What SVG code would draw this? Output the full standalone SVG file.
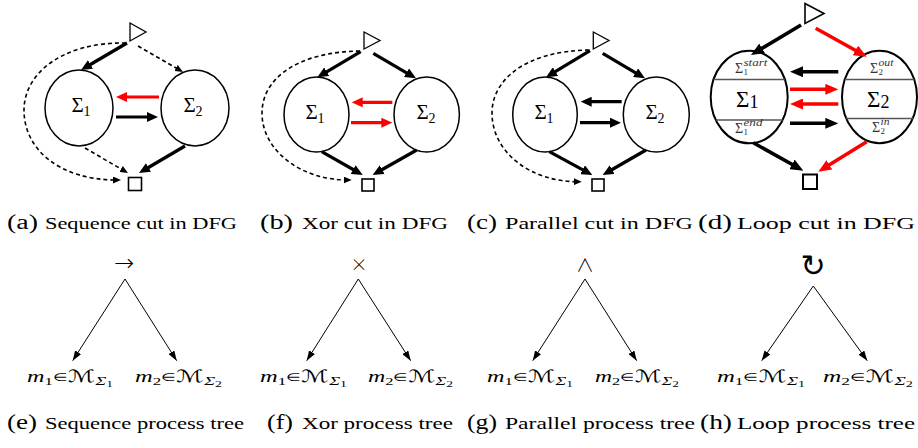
<svg xmlns="http://www.w3.org/2000/svg" width="918" height="448" viewBox="0 0 918 448">
<style>
.ell{fill:#fff;stroke:#000;stroke-width:1.5}
.ell2{fill:#fff;stroke:#000;stroke-width:2}
.tri{fill:#fff;stroke:#000;stroke-width:1.3}
.sq{fill:#fff;stroke:#000;stroke-width:1.6}
.div{stroke:#555;stroke-width:1.5}
.b{fill:none;stroke:#000;stroke-width:3.2}
.r{fill:none;stroke:#f00;stroke-width:3.2}
.bd{fill:none;stroke:#000;stroke-width:3.6}
.rd{fill:none;stroke:#f00;stroke-width:3.6}
.d{fill:none;stroke:#000;stroke-width:1.6;stroke-dasharray:4 3}
.t{fill:none;stroke:#000;stroke-width:1}
.sig{font-family:"Liberation Serif",serif;font-size:21px;fill:#000;text-anchor:middle}
.sigL{font-family:"Liberation Serif",serif;font-size:23px;fill:#000}
.sm{font-family:"Liberation Serif",serif;font-size:14px;fill:#333}
.sub{font-family:"Liberation Serif",serif;font-size:9px;fill:#333}
.sup{font-family:"Liberation Serif",serif;font-size:10px;font-style:italic;fill:#333}
.lab{font-family:"Liberation Serif",serif;font-size:20px;fill:#000}
.cap{font-family:"Liberation Serif",serif;font-size:17px;fill:#000}
.ml{font-family:"Liberation Serif",serif;font-size:16px;fill:#000}
.op{font-family:"DejaVu Sans",sans-serif;font-weight:200;fill:#000;text-anchor:middle}
.op2{font-family:"Noto Sans CJK JP","DejaVu Sans",sans-serif;font-weight:300;fill:#000;text-anchor:middle}
.op3{font-family:"DejaVu Sans",sans-serif;fill:#000;text-anchor:middle}
</style>
<defs>
<marker id="hb" markerUnits="userSpaceOnUse" markerWidth="11" markerHeight="10" refX="6" refY="5" orient="auto"><path d="M0,0 L11,5 L0,10 z" fill="#000"/></marker>
<marker id="hr" markerUnits="userSpaceOnUse" markerWidth="11" markerHeight="10" refX="6" refY="5" orient="auto"><path d="M0,0 L11,5 L0,10 z" fill="#f00"/></marker>
<marker id="hbd" markerUnits="userSpaceOnUse" markerWidth="13" markerHeight="11" refX="7" refY="5.5" orient="auto"><path d="M0,0 L13,5.5 L0,11 z" fill="#000"/></marker>
<marker id="hrd" markerUnits="userSpaceOnUse" markerWidth="13" markerHeight="11" refX="7" refY="5.5" orient="auto"><path d="M0,0 L13,5.5 L0,11 z" fill="#f00"/></marker>
<marker id="hd" markerUnits="userSpaceOnUse" markerWidth="8" markerHeight="7" refX="4" refY="3.5" orient="auto"><path d="M0,0 L8,3.5 L0,7 z" fill="#000"/></marker>
<marker id="ht" markerUnits="userSpaceOnUse" markerWidth="10" markerHeight="7" refX="10" refY="3.5" orient="auto"><path d="M0,0 L10,3.5 L0,7 z" fill="#000"/></marker>
</defs>
<rect width="918" height="448" fill="#fff"/>

<!-- Panel (a) nodes -->
<g id="a-start"><polygon class="tri" points="130,23 146,32 130,41"/></g>
<g id="a-s1"><ellipse class="ell" cx="79" cy="108" rx="34" ry="38"/><text class="sig" x="81" y="112">Σ<tspan font-size="14" dy="4">1</tspan></text></g>
<g id="a-s2"><ellipse class="ell" cx="195" cy="108" rx="34" ry="38"/><text class="sig" x="193" y="112">Σ<tspan font-size="14" dy="4">2</tspan></text></g>
<g id="a-end"><rect class="sq" x="128.5" y="177.5" width="13" height="13"/></g>

<!-- Panel (b) nodes -->
<g id="b-start"><polygon class="tri" points="364,32 380,40.5 364,49"/></g>
<g id="b-s1"><ellipse class="ell" cx="316.5" cy="114.5" rx="32.5" ry="37.5"/><text class="sig" x="315" y="119">Σ<tspan font-size="14" dy="4">1</tspan></text></g>
<g id="b-s2"><ellipse class="ell" cx="426.7" cy="114.5" rx="32.7" ry="37.5"/><text class="sig" x="426" y="119">Σ<tspan font-size="14" dy="4">2</tspan></text></g>
<g id="b-end"><rect class="sq" x="362" y="179" width="12" height="12"/></g>

<!-- Panel (c) nodes -->
<g id="c-start"><polygon class="tri" points="593.3,32 609,40.5 593.3,49"/></g>
<g id="c-s1"><ellipse class="ell" cx="545" cy="114.5" rx="32.3" ry="37.5"/><text class="sig" x="544" y="119">Σ<tspan font-size="14" dy="4">1</tspan></text></g>
<g id="c-s2"><ellipse class="ell" cx="656.3" cy="114.5" rx="33" ry="37.5"/><text class="sig" x="655" y="119">Σ<tspan font-size="14" dy="4">2</tspan></text></g>
<g id="c-end"><rect class="sq" x="592" y="179" width="12" height="12"/></g>

<!-- Panel (d) nodes -->
<g id="d-start"><polygon class="tri" points="805,3.5 824,13.5 805,23.5" style="stroke-width:1.6"/></g>
<g id="d-s1">
<ellipse class="ell2" cx="749.2" cy="97" rx="38.5" ry="46.3"/>
<line class="div" x1="713.6" y1="79.5" x2="784.8" y2="79.5"/>
<line class="div" x1="715.8" y1="120" x2="782.6" y2="120"/>
<text class="sm" x="735" y="73">Σ</text><text class="sub" x="743.5" y="75">1</text><text class="sup" x="743.5" y="66" textLength="24" lengthAdjust="spacingAndGlyphs">start</text>
<text class="sigL" x="736" y="107">Σ<tspan font-size="18" dy="1">1</tspan></text>
<text class="sm" x="735" y="133">Σ</text><text class="sub" x="743.5" y="135">1</text><text class="sup" x="743.5" y="126" textLength="19" lengthAdjust="spacingAndGlyphs">end</text>
</g>
<g id="d-s2">
<ellipse class="ell2" cx="879.5" cy="97" rx="37.5" ry="46.3"/>
<line class="div" x1="844.8" y1="79.5" x2="914.2" y2="79.5"/>
<line class="div" x1="846" y1="118.5" x2="913" y2="118.5"/>
<text class="sm" x="870" y="73">Σ</text><text class="sub" x="878.5" y="75">2</text><text class="sup" x="878.5" y="66" textLength="15" lengthAdjust="spacingAndGlyphs">out</text>
<text class="sigL" x="867" y="107">Σ<tspan font-size="18" dy="1">2</tspan></text>
<text class="sm" x="872" y="132">Σ</text><text class="sub" x="880.5" y="134">2</text><text class="sup" x="880.5" y="125" textLength="9" lengthAdjust="spacingAndGlyphs">in</text>
</g>
<g id="d-end"><rect class="sq" x="803" y="174.5" width="14" height="14.5" style="stroke-width:2"/></g>

<!-- Trees nodes -->
<g id="e-root"><text class="op" x="124" y="271" font-size="24">→</text></g>
<g id="e-m1"><text class="ml" x="27" y="382" textLength="86" lengthAdjust="spacingAndGlyphs"><tspan font-style="italic">m</tspan><tspan font-size="11" dy="3">1</tspan><tspan font-size="11" dy="-4">∈</tspan><tspan font-family="DejaVu Sans" font-size="17" dy="1">ℳ</tspan><tspan font-style="italic" font-size="12" dy="3">Σ</tspan><tspan font-size="9" dy="2">1</tspan></text></g>
<g id="e-m2"><text class="ml" x="135" y="382" textLength="87" lengthAdjust="spacingAndGlyphs"><tspan font-style="italic">m</tspan><tspan font-size="11" dy="3">2</tspan><tspan font-size="11" dy="-4">∈</tspan><tspan font-family="DejaVu Sans" font-size="17" dy="1">ℳ</tspan><tspan font-style="italic" font-size="12" dy="3">Σ</tspan><tspan font-size="9" dy="2">2</tspan></text></g>

<g id="f-root"><text class="op2" x="359" y="271" font-size="17">×</text></g>
<g id="f-m1"><text class="ml" x="260" y="382" textLength="87" lengthAdjust="spacingAndGlyphs"><tspan font-style="italic">m</tspan><tspan font-size="11" dy="3">1</tspan><tspan font-size="11" dy="-4">∈</tspan><tspan font-family="DejaVu Sans" font-size="17" dy="1">ℳ</tspan><tspan font-style="italic" font-size="12" dy="3">Σ</tspan><tspan font-size="9" dy="2">1</tspan></text></g>
<g id="f-m2"><text class="ml" x="368" y="382" textLength="85" lengthAdjust="spacingAndGlyphs"><tspan font-style="italic">m</tspan><tspan font-size="11" dy="3">2</tspan><tspan font-size="11" dy="-4">∈</tspan><tspan font-family="DejaVu Sans" font-size="17" dy="1">ℳ</tspan><tspan font-style="italic" font-size="12" dy="3">Σ</tspan><tspan font-size="9" dy="2">2</tspan></text></g>

<g id="g-root"><text class="op2" x="585" y="272" font-size="18">∧</text></g>
<g id="g-m1"><text class="ml" x="487" y="382" textLength="86" lengthAdjust="spacingAndGlyphs"><tspan font-style="italic">m</tspan><tspan font-size="11" dy="3">1</tspan><tspan font-size="11" dy="-4">∈</tspan><tspan font-family="DejaVu Sans" font-size="17" dy="1">ℳ</tspan><tspan font-style="italic" font-size="12" dy="3">Σ</tspan><tspan font-size="9" dy="2">1</tspan></text></g>
<g id="g-m2"><text class="ml" x="595" y="382" textLength="84" lengthAdjust="spacingAndGlyphs"><tspan font-style="italic">m</tspan><tspan font-size="11" dy="3">2</tspan><tspan font-size="11" dy="-4">∈</tspan><tspan font-family="DejaVu Sans" font-size="17" dy="1">ℳ</tspan><tspan font-style="italic" font-size="12" dy="3">Σ</tspan><tspan font-size="9" dy="2">2</tspan></text></g>

<g id="h-root"><text class="op3" x="813" y="276" font-size="30">↻</text></g>
<g id="h-m1"><text class="ml" x="717" y="382" textLength="88" lengthAdjust="spacingAndGlyphs"><tspan font-style="italic">m</tspan><tspan font-size="11" dy="3">1</tspan><tspan font-size="11" dy="-4">∈</tspan><tspan font-family="DejaVu Sans" font-size="17" dy="1">ℳ</tspan><tspan font-style="italic" font-size="12" dy="3">Σ</tspan><tspan font-size="9" dy="2">1</tspan></text></g>
<g id="h-m2"><text class="ml" x="823" y="382" textLength="90" lengthAdjust="spacingAndGlyphs"><tspan font-style="italic">m</tspan><tspan font-size="11" dy="3">2</tspan><tspan font-size="11" dy="-4">∈</tspan><tspan font-family="DejaVu Sans" font-size="17" dy="1">ℳ</tspan><tspan font-style="italic" font-size="12" dy="3">Σ</tspan><tspan font-size="9" dy="2">2</tspan></text></g>

<!-- Connectors -->
<g id="connectors">
<!-- a -->
<path class="b" d="M127,43 L85.3,67.5" marker-end="url(#hb)"/>
<path class="d" d="M138,46 L179.5,70" marker-end="url(#hd)"/>
<path class="r" d="M159,97 L121,97" marker-end="url(#hr)"/>
<path class="b" d="M116,117 L153,117" marker-end="url(#hb)"/>
<path class="d" d="M85,148 L124.5,171" marker-end="url(#hd)"/>
<path class="b" d="M185,146 L143.3,170.5" marker-end="url(#hb)"/>
<path class="d" d="M126,43 C60,42 24,75 24,110 C24,150 60,180 117,180" marker-end="url(#hd)"/>
<!-- b -->
<path class="b" d="M360.7,51.7 L321.6,74.8" marker-end="url(#hb)"/>
<path class="b" d="M373.3,53.3 L411.7,75.8" marker-end="url(#hb)"/>
<path class="r" d="M392.3,102.3 L356.7,102.3" marker-end="url(#hr)"/>
<path class="r" d="M351,122.7 L387.3,122.7" marker-end="url(#hr)"/>
<path class="b" d="M321.7,151.7 L358.4,172.5" marker-end="url(#hb)"/>
<path class="b" d="M416.7,150 L377,172.5" marker-end="url(#hb)"/>
<path class="d" d="M360,51 C295,52 262,80 262,113 C262,150 300,180 347.7,180" marker-end="url(#hd)"/>
<!-- c -->
<path class="b" d="M590,50.7 L550.3,74.7" marker-end="url(#hb)"/>
<path class="b" d="M602.7,53.3 L640.7,75.8" marker-end="url(#hb)"/>
<path class="b" d="M621.7,101.7 L585.7,101.7" marker-end="url(#hb)"/>
<path class="b" d="M580,122.7 L616,122.7" marker-end="url(#hb)"/>
<path class="b" d="M549.3,151.7 L587.9,172.6" marker-end="url(#hb)"/>
<path class="b" d="M646,150 L607,172.5" marker-end="url(#hb)"/>
<path class="d" d="M589.3,50 C525,51 492,80 492,113 C492,152 530,181.7 577.7,181.7" marker-end="url(#hd)"/>
<!-- d -->
<path class="bd" d="M801,25 L756.1,51.9" marker-end="url(#hbd)"/>
<path class="rd" d="M815.7,28.3 L861.5,53.8" marker-end="url(#hrd)"/>
<path class="bd" d="M838.3,71.7 L796,71.7" marker-end="url(#hbd)"/>
<path class="rd" d="M790,89.3 L832.3,89.3" marker-end="url(#hrd)"/>
<path class="rd" d="M838.3,104 L796,104" marker-end="url(#hrd)"/>
<path class="bd" d="M790,123.3 L832.3,123.3" marker-end="url(#hbd)"/>
<path class="bd" d="M753.3,142.7 L798.1,167.8" marker-end="url(#hbd)"/>
<path class="rd" d="M866.7,141.7 L823.4,168.5" marker-end="url(#hrd)"/>
<!-- trees -->
<path class="t" d="M125,279 L72.7,360.7" marker-end="url(#ht)"/>
<path class="t" d="M125,279 L176.7,360.7" marker-end="url(#ht)"/>
<path class="t" d="M358.3,279 L306.7,360.7" marker-end="url(#ht)"/>
<path class="t" d="M358.3,279 L410.7,360.7" marker-end="url(#ht)"/>
<path class="t" d="M585,279 L532.7,360.7" marker-end="url(#ht)"/>
<path class="t" d="M585,279 L636.7,360.7" marker-end="url(#ht)"/>
<path class="t" d="M813.3,286 L761.7,360.7" marker-end="url(#ht)"/>
<path class="t" d="M813.3,286 L867.3,360.7" marker-end="url(#ht)"/>
</g>

<!-- Captions -->
<g id="captions">
<text class="lab" x="7" y="229" textLength="31" lengthAdjust="spacingAndGlyphs">(a)</text>
<text class="cap" x="45" y="229" textLength="192" lengthAdjust="spacingAndGlyphs">Sequence cut in DFG</text>
<text class="lab" x="260" y="229" textLength="33" lengthAdjust="spacingAndGlyphs">(b)</text>
<text class="cap" x="302" y="229" textLength="146" lengthAdjust="spacingAndGlyphs">Xor cut in DFG</text>
<text class="lab" x="467" y="229" textLength="30" lengthAdjust="spacingAndGlyphs">(c)</text>
<text class="cap" x="505" y="229" textLength="188" lengthAdjust="spacingAndGlyphs">Parallel cut in DFG</text>
<text class="lab" x="698" y="229" textLength="34" lengthAdjust="spacingAndGlyphs">(d)</text>
<text class="cap" x="737" y="229" textLength="178" lengthAdjust="spacingAndGlyphs">Loop cut in DFG</text>
<text class="lab" x="7" y="429" textLength="30" lengthAdjust="spacingAndGlyphs">(e)</text>
<text class="cap" x="45" y="429" textLength="199" lengthAdjust="spacingAndGlyphs">Sequence process tree</text>
<text class="lab" x="267" y="429" textLength="26" lengthAdjust="spacingAndGlyphs">(f)</text>
<text class="cap" x="302" y="429" textLength="151" lengthAdjust="spacingAndGlyphs">Xor process tree</text>
<text class="lab" x="467" y="429" textLength="30" lengthAdjust="spacingAndGlyphs">(g)</text>
<text class="cap" x="505" y="429" textLength="190" lengthAdjust="spacingAndGlyphs">Parallel process tree</text>
<text class="lab" x="700" y="429" textLength="32" lengthAdjust="spacingAndGlyphs">(h)</text>
<text class="cap" x="737" y="429" textLength="178" lengthAdjust="spacingAndGlyphs">Loop process tree</text>
</g>
</svg>
